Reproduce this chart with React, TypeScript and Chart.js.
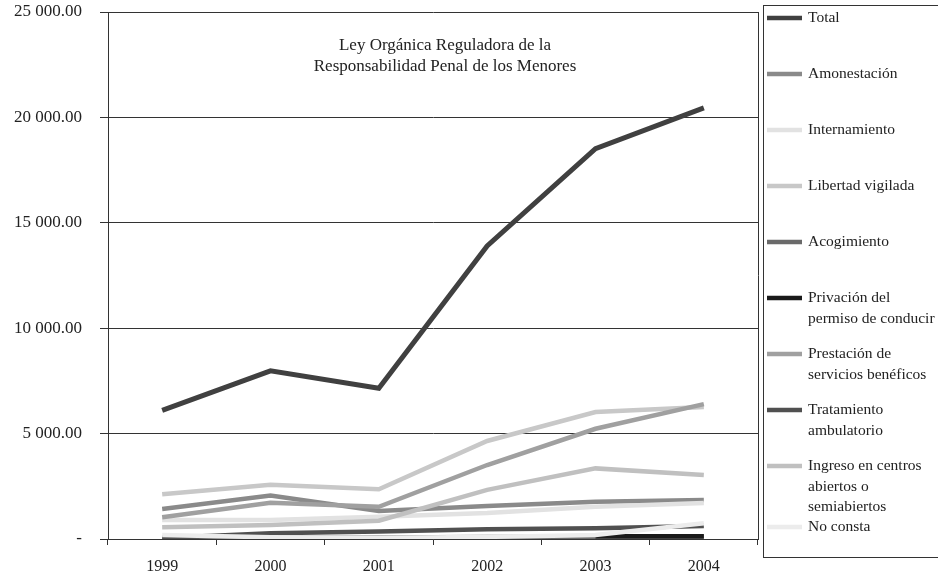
import React, { useEffect, useRef } from "react";
import { Chart, registerables } from "chart.js";

Chart.register(...registerables);

const years = ["1999", "2000", "2001", "2002", "2003", "2004"];

const total = [6100, 7980, 7150, 13900, 18520, 20450];
const amonestacion = [1420, 2060, 1330, 1570, 1770, 1850];
const internamiento = [900, 900, 1060, 1230, 1530, 1710];
const libertadVigilada = [2120, 2570, 2360, 4650, 6020, 6260];
const acogimiento = [50, 60, 70, 90, 100, 110];
const privacion = [null, null, null, null, 130, 130];
const prestacion = [1030, 1720, 1530, 3510, 5230, 6400];
const tratamiento = [50, 270, 350, 460, 510, 620];
const ingreso = [560, 660, 870, 2330, 3350, 3040];
const noConsta = [190, 80, 60, 100, 190, 750];

const seriesLabels: string[][] = [
  ["Total"],
  ["Amonestación"],
  ["Internamiento"],
  ["Libertad vigilada"],
  ["Acogimiento"],
  ["Privación del", "permiso de conducir"],
  ["Prestación de", "servicios benéficos"],
  ["Tratamiento", "ambulatorio"],
  ["Ingreso en centros", "abiertos o", "semiabiertos"],
  ["No consta"],
];

const seriesValues = [
  total,
  amonestacion,
  internamiento,
  libertadVigilada,
  acogimiento,
  privacion,
  prestacion,
  tratamiento,
  ingreso,
  noConsta,
];

const seriesColors = [
  "#404040",
  "#8a8a8a",
  "#e2e2e2",
  "#c8c8c8",
  "#6a6a6a",
  "#1a1a1a",
  "#a0a0a0",
  "#505050",
  "#c0c0c0",
  "#ececec",
];

const titleLines = [
  "Ley Orgánica Reguladora de la",
  "Responsabilidad Penal de los Menores",
];

const FONT = "'Liberation Serif', 'DejaVu Serif', serif";

const overlayPlugin = {
  id: "overlay",
  afterDraw(chart: any) {
    const ctx = chart.ctx as CanvasRenderingContext2D;
    const ca = chart.chartArea;
    ctx.save();
    // right border of plot area
    ctx.strokeStyle = "#333";
    ctx.lineWidth = 1;
    ctx.beginPath();
    ctx.moveTo(Math.round(ca.right) + 0.5, ca.top);
    ctx.lineTo(Math.round(ca.right) + 0.5, ca.bottom);
    ctx.stroke();

    // title inside plot
    ctx.fillStyle = "#222";
    ctx.font = `17px ${FONT}`;
    ctx.textAlign = "center";
    ctx.textBaseline = "middle";
    titleLines.forEach((t, i) => ctx.fillText(t, 445, 46 + i * 21));

    // legend box
    const boxX = 763;
    const boxY = 5;
    ctx.strokeStyle = "#333";
    ctx.strokeRect(boxX + 0.5, boxY + 0.5, 200, 552);

    ctx.font = `15.5px ${FONT}`;
    ctx.textAlign = "left";
    let y = 18;
    chart.data.datasets.forEach((ds: any, i: number) => {
      const lines = seriesLabels[i];
      ctx.strokeStyle = ds.borderColor;
      ctx.lineWidth = 4.5;
      ctx.beginPath();
      ctx.moveTo(767, y);
      ctx.lineTo(802, y);
      ctx.stroke();
      ctx.fillStyle = "#222";
      lines.forEach((l, j) => ctx.fillText(l, 808, y + j * 20.5));
      y += Math.max(56, lines.length * 20 + 1);
    });
    ctx.restore();
  },
};

export default function App() {
  const ref = useRef<HTMLCanvasElement>(null);
  useEffect(() => {
    if (!ref.current) return;
    const chart = new Chart(ref.current, {
      type: "line",
      data: {
        labels: years,
        datasets: seriesValues.map((vals, i) => ({
          label: seriesLabels[i].join(" "),
          data: vals as any,
          borderColor: seriesColors[i],
          backgroundColor: seriesColors[i],
          borderWidth: i === 0 ? 5 : 4.5,
          pointRadius: 0,
          tension: 0,
          fill: false,
          order: 20 - i,
        })),
      },
      options: {
        responsive: false,
        animation: false,
        devicePixelRatio: 1,
        layout: { padding: { top: 12, right: 180, left: 0, bottom: 0 } },
        plugins: {
          legend: { display: false },
          tooltip: { enabled: false },
          title: { display: false },
        },
        scales: {
          x: {
            type: "category",
            offset: true,
            grid: {
              offset: true,
              drawOnChartArea: false,
              tickLength: 6,
              color: "#333",
            },
            border: { color: "#333" },
            ticks: {
              color: "#222",
              font: { family: FONT, size: 16 },
              padding: 12,
              maxRotation: 0,
            },
            afterFit: (s: any) => {
              s.height = 36;
              s.paddingLeft = 0;
              s.paddingRight = 0;
            },
          },
          y: {
            min: 0,
            max: 25000,
            grid: { color: "#333", tickLength: 8 },
            border: { color: "#333" },
            ticks: {
              stepSize: 5000,
              color: "#222",
              padding: 18,
              font: { family: FONT, size: 17 },
              callback: (v: any) => {
                const n = Number(v);
                if (n === 0) return "-";
                const s = Math.round(n).toString().replace(/\B(?=(\d{3})+(?!\d))/g, " ");
                return s + ".00";
              },
            },
            afterFit: (s: any) => {
              s.width = 108;
              s.paddingTop = 0;
              s.paddingBottom = 0;
            },
          },
        },
      },
      plugins: [overlayPlugin],
    });
    return () => chart.destroy();
  }, []);
  return (
    <div style={{ position: "absolute", left: 0, top: 0, width: 938, height: 575, background: "#fff" }}>
      <canvas ref={ref} width={938} height={575} />
    </div>
  );
}
